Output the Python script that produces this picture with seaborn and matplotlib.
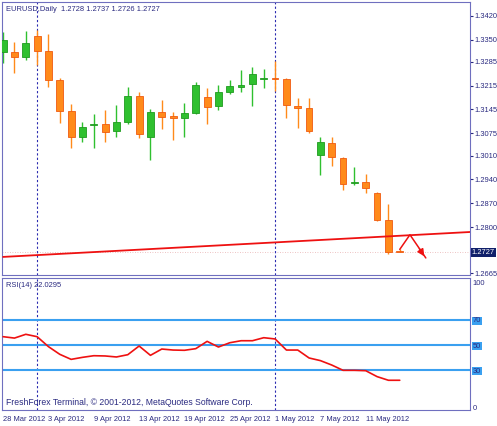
import matplotlib
matplotlib.use("Agg")
import matplotlib.pyplot as plt
import numpy as np
import pandas as pd
import seaborn as sns

# daily EURUSD candles, oldest first
opens = [1.3314, 1.3314, 1.3299, 1.3361, 1.3317, 1.3232, 1.3141, 1.3064, 1.3100, 1.3103,
         1.3082, 1.3108, 1.3185, 1.3064, 1.3138, 1.3126, 1.3120, 1.3135, 1.3182, 1.3156,
         1.3196, 1.3211, 1.3220, 1.3235, 1.3237, 1.3235, 1.3155, 1.3149, 1.3012, 1.3047,
         1.3003, 1.2930, 1.2933, 1.2900, 1.2821, 1.2728]
highs = [1.3372, 1.3343, 1.3375, 1.3378, 1.3366, 1.3237, 1.3161, 1.3108, 1.3132, 1.3144,
         1.3158, 1.3211, 1.3196, 1.3146, 1.3173, 1.3138, 1.3164, 1.3226, 1.3208, 1.3217,
         1.3232, 1.3261, 1.3270, 1.3264, 1.3287, 1.3237, 1.3179, 1.3179, 1.3064, 1.3064,
         1.3006, 1.2977, 1.2956, 1.2903, 1.2868, 1.2737]
lows = [1.3281, 1.3252, 1.3290, 1.3276, 1.3211, 1.3106, 1.3032, 1.3050, 1.3032, 1.3050,
        1.3064, 1.3103, 1.3061, 1.2997, 1.3088, 1.3056, 1.3064, 1.3132, 1.3103, 1.3144,
        1.3190, 1.3196, 1.3155, 1.3208, 1.3199, 1.3120, 1.3091, 1.3076, 1.2953, 1.2980,
        1.2909, 1.2924, 1.2900, 1.2818, 1.2722, 1.2726]
closes = [1.3349, 1.3299, 1.3340, 1.3317, 1.3232, 1.3141, 1.3064, 1.3094, 1.3103, 1.3079,
          1.3108, 1.3185, 1.3073, 1.3138, 1.3123, 1.3120, 1.3135, 1.3217, 1.3153, 1.3196,
          1.3214, 1.3217, 1.3249, 1.3237, 1.3235, 1.3158, 1.3149, 1.3082, 1.3050, 1.3006,
          1.2927, 1.2933, 1.2915, 1.2821, 1.2728, 1.2727]
rsi = [56.6, 55.5, 58.5, 56.6, 48.7, 42.6, 38.6, 40.2, 41.5, 41.3,
       40.5, 42.3, 49.2, 41.8, 46.8, 46.0, 45.8, 47.1, 52.9, 48.4,
       51.8, 53.4, 53.4, 55.8, 54.8, 46.0, 46.0, 39.7, 37.6, 34.1,
       29.9, 29.9, 29.6, 24.9, 22.0, 22.0]

price_ticks = [1.3420, 1.3350, 1.3285, 1.3215, 1.3145, 1.3075, 1.3010, 1.2940, 1.2870, 1.2800, 1.2665]
date_pos = [0, 4, 8, 12, 16, 20, 24, 28, 32]
date_labels = ["28 Mar 2012", "3 Apr 2012", "9 Apr 2012", "13 Apr 2012", "19 Apr 2012",
               "25 Apr 2012", "1 May 2012", "7 May 2012", "11 May 2012"]
trend_x = [0, 41.2]
trend_y = [1.2713, 1.2786]
last_price = 1.2727

sns.set_style("white")
plt.rcParams["font.family"] = ["Liberation Sans", "DejaVu Sans"]

frame = "#6f6fbf"
txt = "#2a2a80"
up, down = "#2fc02f", "#ff8a1a"
fs = 5.4

fig = plt.figure(figsize=(4.97, 4.26), dpi=100)
W, H = 497, 426
ax = fig.add_axes([2 / W, 1 - 275 / H, 468 / W, 273 / H])
ax2 = fig.add_axes([2 / W, 1 - 410 / H, 468 / W, 132 / H])

df = pd.DataFrame({"o": opens, "h": highs, "l": lows, "c": closes})
df["i"] = np.arange(len(df))
df["bull"] = df["c"] >= df["o"]
for _, r in df.iterrows():
    col = up if r["bull"] else down
    edge = "#1f9a1f" if r["bull"] else "#f05a10"
    ax.vlines(r["i"], r["l"], r["h"], color=col, lw=1, zorder=2)
    lo, hi = min(r["o"], r["c"]), max(r["o"], r["c"])
    ax.bar(r["i"], max(hi - lo, 0.0003), bottom=lo, width=0.6, color=col,
           edgecolor=edge, lw=0.6, zorder=3)

ax.plot(trend_x, trend_y, color="#ee1111", lw=1.3, zorder=4)
ax.axhline(last_price, color="#e8b0b0", lw=0.6, ls=(0, (1, 2)), zorder=1)
# hand-drawn arrow
ax.plot([35, 35.9, 37.3], [1.2735, 1.2778, 1.2710], color="#ee1111", lw=1.1, zorder=5)
ax.annotate("", xy=(37.3, 1.2708), xytext=(36.6, 1.2744),
            arrowprops=dict(arrowstyle="-|>", color="#ee1111", lw=1.1), zorder=5)

ax.set_xlim(-0.1, 41.2)
ax.set_ylim(1.2660, 1.3460)
ax.set_xticks([])
ax.yaxis.tick_right()
ax.set_yticks(price_ticks)
ax.set_yticklabels([f"{t:.4f}" for t in price_ticks])
ax.tick_params(axis="y", labelsize=fs, colors=txt, length=2, pad=1.5, direction="out")
ax.text(1.004, (last_price - 1.2660) / (1.3460 - 1.2660), f"{last_price:.4f}",
        transform=ax.transAxes, fontsize=fs, color="white", va="center", ha="left",
        bbox=dict(boxstyle="square,pad=0.15", fc="#10206a", ec="none"))
ax.text(0.008, 0.985, "EURUSD,Daily  1.2728 1.2737 1.2726 1.2727", transform=ax.transAxes,
        fontsize=fs, color=txt, va="top")

sns.lineplot(x=df["i"], y=rsi, ax=ax2, color="#ee1111", lw=1.2, zorder=4)
for lvl in [70, 50, 30]:
    ax2.axhline(lvl, color="#3aa0f0", lw=1.5, zorder=2)
ax2.set_xlim(-0.1, 41.2)
ax2.set_ylim(-1.6, 103.2)
ax2.yaxis.tick_right()
ax2.set_yticks([100, 70, 50, 30, 0])
ax2.set_yticklabels(["100", "70", "50", "30", "0"])
ax2.tick_params(axis="y", labelsize=fs, colors=txt, length=0, pad=2)
for lbl in ax2.get_yticklabels()[1:4]:
    lbl.set_bbox(dict(boxstyle="square,pad=0.1", fc="#3aa0f0", ec="none"))
ax2.set_ylabel("")
ax2.set_xticks(date_pos)
ax2.set_xticklabels(date_labels, ha="left")
ax2.tick_params(axis="x", labelsize=fs, colors=txt, length=3, pad=1, direction="out")
ax2.text(0.008, 0.97, "RSI(14) 22.0295", transform=ax2.transAxes, fontsize=fs,
         color=txt, va="top")
ax2.text(0.008, 0.02, "FreshForex Terminal, \u00a9 2001-2012, MetaQuotes Software Corp.",
         transform=ax2.transAxes, fontsize=fs + 0.8, color=txt, va="bottom")

for a in (ax, ax2):
    for s in a.spines.values():
        s.set_color(frame)
        s.set_linewidth(0.8)
    for v in [3, 24]:
        a.axvline(v, color="#2a2ab0", lw=0.8, ls=(0, (2, 2)), zorder=1)

fig.savefig("out.png", dpi=100, facecolor="white")
